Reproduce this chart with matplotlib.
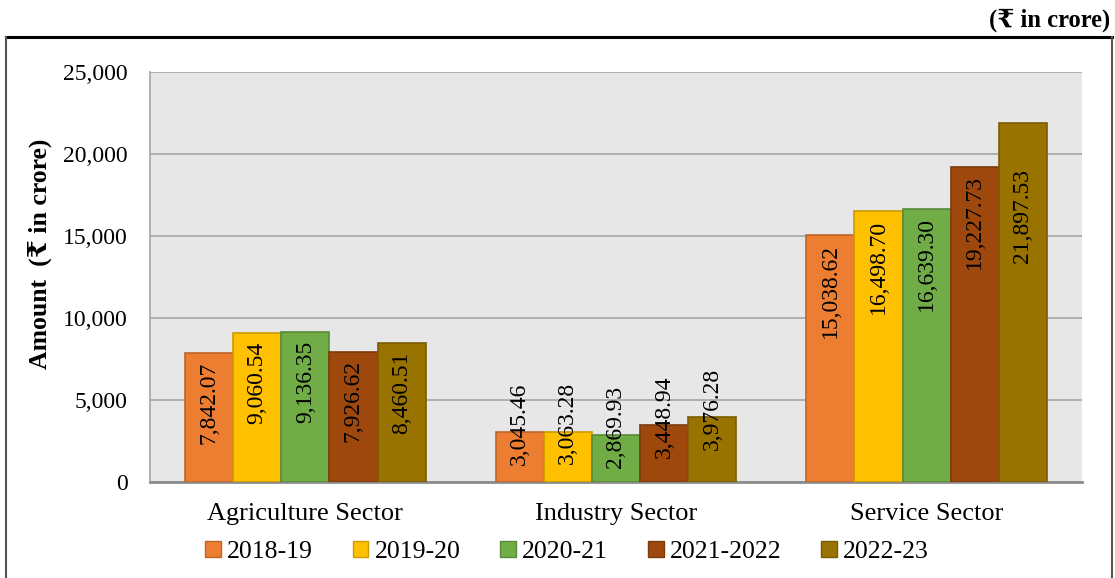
import matplotlib
matplotlib.use("Agg")
import matplotlib.pyplot as plt
import numpy as np
from matplotlib.patches import Patch
from matplotlib.lines import Line2D

plt.rcParams['font.family'] = ['Liberation Serif', 'DejaVu Serif']

sectors = ["Agriculture Sector", "Industry Sector", "Service Sector"]
years = ["2018-19", "2019-20", "2020-21", "2021-2022", "2022-23"]
v_2018 = [7842.07, 3045.46, 15038.62]
v_2019 = [9060.54, 3063.28, 16498.70]
v_2020 = [9136.35, 2869.93, 16639.30]
v_2021 = [7926.62, 3448.94, 19227.73]
v_2022 = [8460.51, 3976.28, 21897.53]
series = [v_2018, v_2019, v_2020, v_2021, v_2022]
colors = ["#ED7D31", "#FFC000", "#70AD47", "#9E480E", "#997300"]


def darker(c, f=0.8):
    return tuple(np.array(matplotlib.colors.to_rgb(c)) * f)


fig = plt.figure(figsize=(11.15, 5.78), dpi=100)
ax = fig.add_axes([150 / 1115, 1 - 482 / 578, 932 / 1115, 410 / 578])
ax.set_facecolor("#E7E7E7")

x = np.arange(len(sectors))
w = 0.155
for i, (vals, c) in enumerate(zip(series, colors)):
    xs = x + (i - 2) * w
    ax.bar(xs, vals, width=w, color=c, edgecolor=darker(c), linewidth=1.2, zorder=3)
    for xi, v in zip(xs, vals):
        lab = f"{v:,.2f}"
        if v > 6000:
            top = min(v, 19600)
            ax.annotate(lab, (xi, top), xytext=(0, -6), textcoords="offset points",
                        rotation=90, ha="center", va="top", fontsize=17, zorder=4)
        else:
            ax.annotate(lab, (xi, v), xytext=(0, 6), textcoords="offset points",
                        rotation=90, ha="center", va="center", fontsize=17, zorder=4)

ax.set_xlim(-0.5, 2.5)
ax.set_ylim(0, 25000)
ax.set_yticks(np.arange(0, 25001, 5000))
ax.set_yticklabels([f"{t:,}" for t in range(0, 25001, 5000)])
ax.set_xticks(x)
ax.set_xticklabels(sectors)
ax.tick_params(axis="y", length=0, pad=16, labelsize=17)
ax.tick_params(axis="x", length=0, pad=15, labelsize=19)
ax.yaxis.grid(True, color="#A6A6A6", linewidth=1.2, zorder=0)
ax.set_axisbelow(True)
for s in ["top", "right"]:
    ax.spines[s].set_visible(False)
ax.spines["left"].set_color("#A6A6A6")
ax.spines["left"].set_linewidth(1.2)
ax.spines["bottom"].set_color("#8C8C8C")
ax.spines["bottom"].set_linewidth(2)

fig.text(40 / 1115, 1 - 254 / 578, "Amount  (₹ in crore)", rotation=90,
         fontsize=18.5, fontweight="bold", ha="center", va="center")
fig.text(1110 / 1115, 1 - 20 / 578, "(₹ in crore)", fontsize=17.7,
         fontweight="bold", ha="right", va="center")

handles = [Patch(facecolor=c, edgecolor=darker(c)) for c in colors]
fig.legend(handles, years, loc="center left", bbox_to_anchor=(205 / 1115, 1 - 552 / 578),
           ncol=5, frameon=False, fontsize=18.5, handlelength=0.62, handleheight=0.58,
           handletextpad=0.23, columnspacing=1.55, borderaxespad=0, borderpad=0)

# outer frame
fig.add_artist(Line2D([6 / 1115, 1112 / 1115], [1 - 37 / 578] * 2, color="black", linewidth=2.2))
fig.add_artist(Line2D([6 / 1115] * 2, [0, 1 - 37 / 578], color="#555555", linewidth=1.5))
fig.add_artist(Line2D([1112 / 1115] * 2, [0, 1 - 37 / 578], color="#555555", linewidth=1.5))

fig.savefig("out.png", dpi=100)
